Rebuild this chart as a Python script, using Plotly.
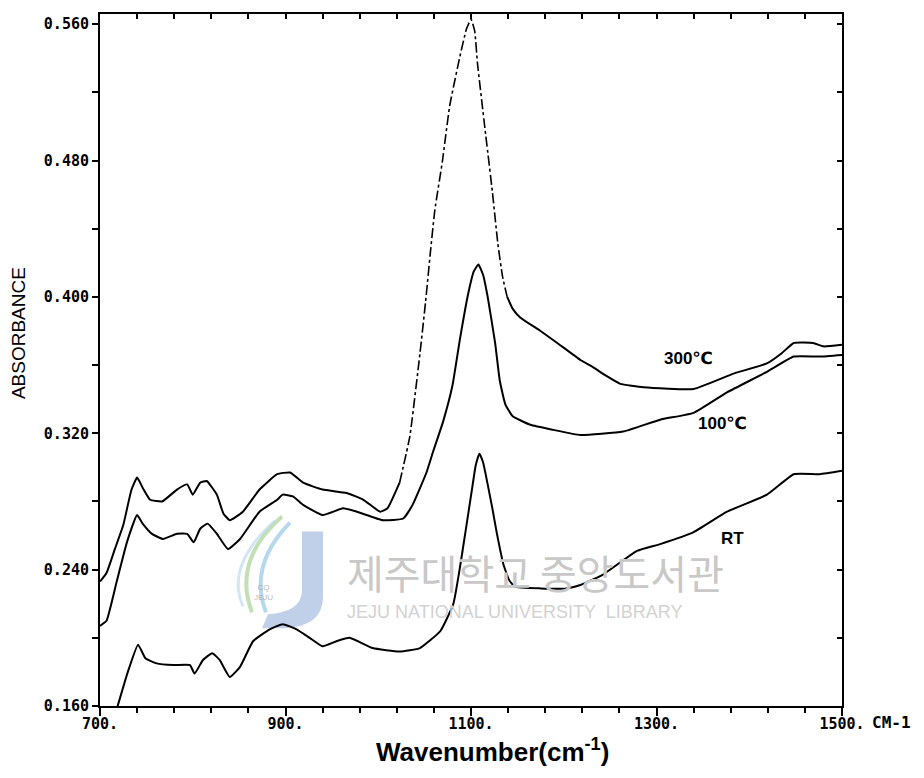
import plotly.graph_objects as go

# ---------------- data ----------------
wn_300 = [700, 707, 716, 725, 734, 740, 747, 754, 767, 783, 794, 800, 808, 815, 826, 833, 840,
          854, 872, 891, 905, 919, 940, 966, 984, 1002, 1010, 1023, 1034, 1045, 1051, 1056, 1061,
          1069, 1077, 1088, 1095, 1100, 1104, 1107, 1115, 1123, 1129, 1134, 1139, 1145, 1153,
          1175, 1193, 1218, 1231, 1245, 1261, 1286, 1340, 1383, 1419, 1435, 1448, 1469, 1480, 1500]
abs_300 = [0.233, 0.238, 0.252, 0.266, 0.287, 0.294, 0.287, 0.281, 0.280, 0.287, 0.290, 0.284,
           0.291, 0.292, 0.284, 0.273, 0.269, 0.274, 0.287, 0.296, 0.297, 0.291, 0.287, 0.285,
           0.281, 0.274, 0.276, 0.291, 0.318, 0.367, 0.397, 0.425, 0.451, 0.479, 0.512, 0.541,
           0.557, 0.563, 0.556, 0.537, 0.499, 0.462, 0.431, 0.412, 0.400, 0.393, 0.388, 0.380,
           0.373, 0.363, 0.359, 0.354, 0.349, 0.347, 0.346, 0.355, 0.361, 0.367, 0.373, 0.373,
           0.371, 0.372]

wn_100 = [700, 707, 718, 729, 740, 746, 756, 768, 783, 794, 801, 808, 816, 826, 838, 851, 872,
          891, 897, 908, 919, 940, 962, 977, 1005, 1027, 1037, 1052, 1059, 1070, 1080, 1088,
          1097, 1103, 1108, 1113, 1118, 1126, 1131, 1137, 1145, 1164, 1189, 1218, 1264, 1304,
          1340, 1376, 1419, 1448, 1476, 1500]
abs_100 = [0.207, 0.210, 0.233, 0.256, 0.272, 0.267, 0.261, 0.258, 0.261, 0.261, 0.256, 0.264,
           0.267, 0.261, 0.252, 0.258, 0.274, 0.281, 0.284, 0.283, 0.278, 0.272, 0.276, 0.274,
           0.269, 0.270, 0.278, 0.297, 0.309, 0.327, 0.348, 0.375, 0.402, 0.415, 0.419, 0.413,
           0.400, 0.373, 0.351, 0.337, 0.330, 0.325, 0.322, 0.319, 0.321, 0.328, 0.332, 0.344,
           0.356, 0.365, 0.365, 0.366]

wn_rt = [700, 719, 730, 741, 749, 761, 779, 797, 802, 811, 821, 829, 840, 851, 865, 883, 897,
         912, 926, 940, 955, 969, 994, 1023, 1045, 1067, 1081, 1088, 1094, 1101, 1105, 1109,
         1113, 1118, 1123, 1128, 1135, 1141, 1147, 1175, 1203, 1218, 1242, 1279, 1304, 1340,
         1376, 1419, 1448, 1476, 1500]
abs_rt = [0.128, 0.160, 0.180, 0.196, 0.188, 0.185, 0.184, 0.184, 0.179, 0.187, 0.191, 0.187,
          0.177, 0.183, 0.198, 0.205, 0.208, 0.205, 0.200, 0.195, 0.198, 0.200, 0.194, 0.192,
          0.194, 0.204, 0.220, 0.241, 0.262, 0.287, 0.301, 0.308, 0.303, 0.290, 0.276, 0.261,
          0.243, 0.234, 0.230, 0.229, 0.229, 0.231, 0.237, 0.251, 0.255, 0.262, 0.274, 0.284,
          0.296, 0.296, 0.298]

x_tick_vals = [700, 900, 1100, 1300, 1500]
x_tick_text = ["700.", "900.", "1100.", "1300.", "1500."]
y_tick_vals = [0.160, 0.240, 0.320, 0.400, 0.480, 0.560]
y_tick_text = ["0.160", "0.240", "0.320", "0.400", "0.480", "0.560"]

series_labels = ["300℃", "100℃", "RT"]
label_pos_wn = [1335, 1371, 1382]
label_pos_abs = [0.364, 0.326, 0.258]

X_RANGE = [700, 1500]
Y_RANGE = [0.160, 0.566]

# ---------------- figure ----------------
W, H = 924, 778
ML, MR, MT, MB = 100, 82, 12, 72

def px(xp):
    return (xp - ML) / (W - ML - MR)

def py(yp):
    return (H - MB - yp) / (H - MT - MB)

fig = go.Figure()

line_style = dict(color="black", width=2, shape="spline", smoothing=0.4)

# 300 C: solid flanks, broken pen line on the steep peak
seg_a = [i for i, w in enumerate(wn_300) if w <= 1023]
seg_b = [i for i, w in enumerate(wn_300) if 1023 <= w <= 1139]
seg_c = [i for i, w in enumerate(wn_300) if w >= 1139]
for seg, dash, wd in [(seg_a, "solid", 2), (seg_b, "10px,3px,3px,3px", 1.6), (seg_c, "solid", 2)]:
    fig.add_trace(go.Scatter(
        x=[wn_300[i] for i in seg], y=[abs_300[i] for i in seg], mode="lines",
        line=dict(color="black", width=wd, dash=dash, shape="spline", smoothing=0.4),
        showlegend=False, hoverinfo="skip"))

fig.add_trace(go.Scatter(x=wn_100, y=abs_100, mode="lines", line=line_style,
                         showlegend=False, hoverinfo="skip"))
fig.add_trace(go.Scatter(x=wn_rt, y=abs_rt, mode="lines", line=line_style,
                         showlegend=False, hoverinfo="skip"))

# dummy trace to show the top/right tick axes
fig.add_trace(go.Scatter(x=[None], y=[None], xaxis="x2", yaxis="y2",
                         showlegend=False, hoverinfo="skip"))

tick_font = dict(family="DejaVu Sans Mono", size=15, color="black", weight="bold")

fig.update_layout(
    width=W, height=H,
    margin=dict(l=ML, r=MR, t=MT, b=MB, pad=0),
    paper_bgcolor="white", plot_bgcolor="white",
    xaxis=dict(range=X_RANGE, tickmode="array", tickvals=x_tick_vals, ticktext=x_tick_text,
               ticks="outside", ticklen=8, tickwidth=2, tickcolor="black",
               ticklabelstandoff=-5,
               minor=dict(tickmode="linear", tick0=700, dtick=40, ticks="outside",
                          ticklen=5, tickwidth=2, tickcolor="black"),
               showline=True, linecolor="black", linewidth=2, mirror=True,
               showgrid=False, zeroline=False, tickfont=tick_font),
    yaxis=dict(range=Y_RANGE, tickmode="array", tickvals=y_tick_vals, ticktext=y_tick_text,
               ticks="outside", ticklen=6, tickwidth=2, tickcolor="black",
               minor=dict(tickmode="linear", tick0=0.16, dtick=0.04, ticks="outside",
                          ticklen=6, tickwidth=2, tickcolor="black"),
               showline=True, linecolor="black", linewidth=2, mirror=True,
               showgrid=False, zeroline=False, tickfont=tick_font),
    xaxis2=dict(range=X_RANGE, overlaying="x", side="top", tickmode="linear", tick0=700,
                dtick=40, ticks="inside", ticklen=5, tickwidth=2, tickcolor="black",
                showticklabels=False, showgrid=False, zeroline=False, showline=False),
    yaxis2=dict(range=Y_RANGE, overlaying="y", side="right", tickmode="linear", tick0=0.16,
                dtick=0.04, ticks="inside", ticklen=5, tickwidth=2, tickcolor="black",
                showticklabels=False, showgrid=False, zeroline=False, showline=False),
)

# ---------------- watermark (library stamp) ----------------
def P(xp, yp):
    return f"{px(xp):.5f},{py(yp):.5f}"

j_path = (f"M {P(302,531)} L {P(323,531)} L {P(323,598)} Q {P(322,626)} {P(285,628)} "
          f"L {P(262,628)} L {P(268,614)} Q {P(300,612)} {P(302,592)} Z")
fig.add_shape(type="path", path=j_path, xref="paper", yref="paper",
              fillcolor="rgba(140,170,215,0.55)", line=dict(width=0), layer="below")
sw1 = f"M {P(282,516)} Q {P(232,560)} {P(252,612)}"
sw2 = f"M {P(290,522)} Q {P(248,565)} {P(266,612)}"
sw3 = f"M {P(275,520)} Q {P(225,565)} {P(243,606)}"
fig.add_shape(type="path", path=sw1, xref="paper", yref="paper",
              line=dict(color="rgba(170,210,150,0.7)", width=4), layer="below")
fig.add_shape(type="path", path=sw2, xref="paper", yref="paper",
              line=dict(color="rgba(150,200,230,0.7)", width=4), layer="below")
fig.add_shape(type="path", path=sw3, xref="paper", yref="paper",
              line=dict(color="rgba(180,215,235,0.6)", width=3), layer="below")

fig.add_annotation(x=px(263), y=py(592), xref="paper", yref="paper", xanchor="center",
                   yanchor="middle", text="CQ<br>JEJU", showarrow=False,
                   font=dict(family="Liberation Sans", size=8, color="rgba(150,150,150,0.7)"))
fig.add_annotation(x=px(345), y=py(572), xref="paper", yref="paper", xanchor="left",
                   yanchor="middle", text="제주대학교 중앙도서관", showarrow=False,
                   font=dict(family="Noto Sans CJK KR", size=40, color="#c8c8c8"))
fig.add_annotation(x=px(345), y=py(612), xref="paper", yref="paper", xanchor="left",
                   yanchor="middle", text="JEJU NATIONAL UNIVERSITY  LIBRARY", showarrow=False,
                   font=dict(family="Liberation Sans", size=18, color="#d2d2d2"))

# ---------------- series labels ----------------
for lab, xv, yv in zip(series_labels, label_pos_wn, label_pos_abs):
    fig.add_annotation(x=xv, y=yv, xref="x", yref="y", text=f"<b>{lab}</b>", showarrow=False,
                       xanchor="center", yanchor="middle",
                       font=dict(family="Liberation Sans, DejaVu Sans", size=17, color="black"))

# ---------------- axis titles ----------------
fig.add_annotation(x=px(18), y=py(332), xref="paper", yref="paper", text="ABSORBANCE",
                   textangle=-90, showarrow=False, xanchor="center", yanchor="middle",
                   font=dict(family="Liberation Sans", size=19, color="black"))
fig.add_annotation(x=px(492), y=py(751), xref="paper", yref="paper",
                   text="<b>Wavenumber(cm<sup>-1</sup>)</b>", showarrow=False,
                   xanchor="center", yanchor="middle",
                   font=dict(family="Liberation Sans", size=26, color="black"))
fig.add_annotation(x=px(870), y=py(723), xref="paper", yref="paper", xanchor="left",
                   yanchor="middle", text="CM-1", showarrow=False,
                   font=dict(family="DejaVu Sans Mono", size=16, color="black", weight="bold"))

fig.write_html("out.html")
